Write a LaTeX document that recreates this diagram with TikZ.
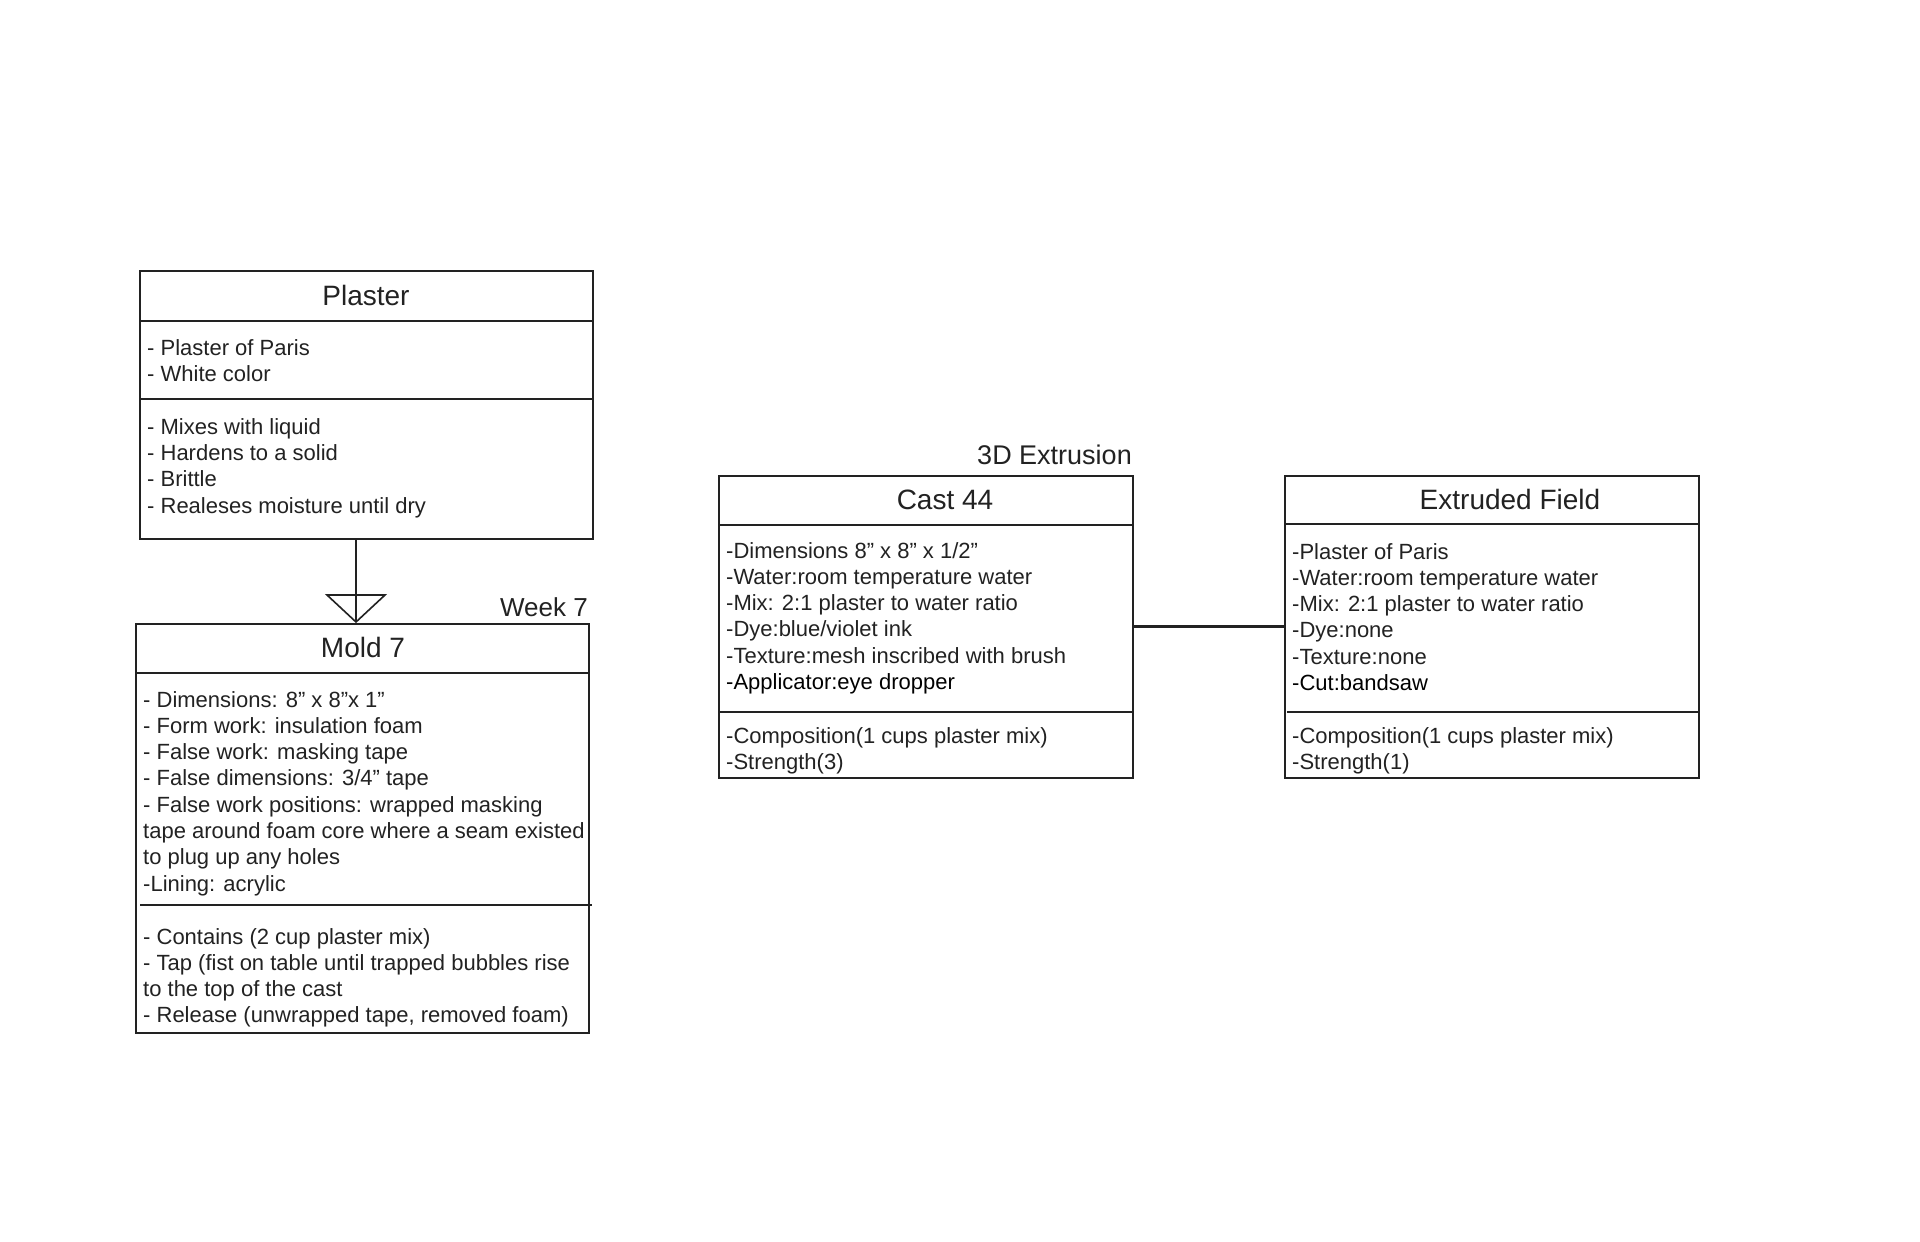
\documentclass[tikz,border=0pt]{standalone}
\usepackage{fontspec}
\setmainfont{Liberation Sans}
\definecolor{ink}{HTML}{222222}
\tikzset{
  box/.style={draw=ink, line width=1.8pt, fill=white, anchor=north west, inner sep=0pt},
  divider/.style={draw=ink, line width=2.6pt},
  conn/.style={draw=ink, line width=1.6pt},
  link/.style={draw=ink, line width=3pt},
  txt/.style={anchor=base west, inner sep=0pt, text=ink, font=\fontsize{22}{26}\selectfont},
  title/.style={anchor=base, inner sep=0pt, text=ink, font=\fontsize{28}{32}\selectfont},
  lbl/.style={anchor=base east, inner sep=0pt, text=ink, font=\fontsize{26}{30}\selectfont}
}
\begin{document}
\begin{tikzpicture}[x=1pt,y=-1pt]
\useasboundingbox (0,0) rectangle (1920,1242);
\fill[white] (0,0) rectangle (1920,1242);

% ---------- Plaster ----------
\node[box, minimum width=453pt, minimum height=268pt] (plaster) at (139,270) {};
\draw[divider] (139,321) -- (592,321);
\draw[divider] (139,399) -- (592,399);
\node[title] (plasterT) at (366,305) {Plaster};
\foreach \t [count=\i] in {- Plaster of Paris, - White color}
  \node[txt] (plA\i) at (147,{355+26.3*(\i-1)}) {\t};
\foreach \t [count=\i] in {- Mixes with liquid, - Hardens to a solid, - Brittle, - Realeses moisture until dry}
  \node[txt] (plB\i) at (147,{434+26.4*(\i-1)}) {\t};

% ---------- Mold 7 ----------
\node[box, minimum width=453pt, minimum height=409pt] (mold) at (135,623) {};
\draw[divider] (135,673) -- (588,673);
\draw[divider] (140,905) -- (592,905);
\node[title] (moldT) at (363,657) {Mold 7};
\node[lbl] (week) at (588,616) {Week 7};
\foreach \t [count=\i] in {- Dimensions: 8” x 8”x 1”, - Form work: insulation foam, - False work: masking tape, - False dimensions: 3/4” tape, - False work positions: wrapped masking, tape around foam core where a seam existed, to plug up any holes, -Lining: acrylic}
  \node[txt] (mA\i) at (143,{707+26.3*(\i-1)}) {\t};
\foreach \t [count=\i] in {- Contains (2 cup plaster mix), - Tap (fist on table until trapped bubbles rise, to the top of the cast, {- Release (unwrapped tape, removed foam)}}
  \node[txt] (mB\i) at (143,{944+26.3*(\i-1)}) {\t};

% ---------- Cast 44 ----------
\node[box, minimum width=414pt, minimum height=302pt] (cast) at (718,475) {};
\draw[divider] (718,525) -- (1132,525);
\draw[divider] (718,712) -- (1132,712);
\node[title] (castT) at (945,509) {Cast 44};
\node[lbl, font=\fontsize{27}{31}\selectfont] (extr) at (1132,464) {3D Extrusion};
\foreach \t [count=\i] in {-Dimensions 8” x 8” x 1/2”, -Water:room temperature water, -Mix: 2:1 plaster to water ratio, -Dye:blue/violet ink, -Texture:mesh inscribed with brush}
  \node[txt] (cA\i) at (726,{558+26.3*(\i-1)}) {\t};
\node[txt, text=black] (cA6) at (726,{558+26.3*5}) {-Applicator:eye dropper};
\foreach \t [count=\i] in {-Composition(1 cups plaster mix), -Strength(3)}
  \node[txt] (cB\i) at (726,{743+26.3*(\i-1)}) {\t};

% ---------- Extruded Field ----------
\node[box, minimum width=414pt, minimum height=302pt] (ext) at (1284,475) {};
\draw[divider] (1284,524) -- (1698,524);
\draw[divider] (1287,712) -- (1698,712);
\node[title] (extT) at (1510,509) {Extruded Field};
\foreach \t [count=\i] in {-Plaster of Paris, -Water:room temperature water, -Mix: 2:1 plaster to water ratio, -Dye:none, -Texture:none}
  \node[txt] (eA\i) at (1292,{559+26.3*(\i-1)}) {\t};
\node[txt, text=black] (eA6) at (1292,{559+26.3*5}) {-Cut:bandsaw};
\foreach \t [count=\i] in {-Composition(1 cups plaster mix), -Strength(1)}
  \node[txt] (eB\i) at (1292,{743+26.3*(\i-1)}) {\t};

% ---------- connectors ----------
\coordinate (tip) at (356,622);
\draw[conn] (tip |- plaster.south) -- (tip);
\draw[conn, line join=miter] (tip) -- ++(-29,-27) -- ++(58,0) -- cycle;
\draw[link] (cast.east) -- (ext.west);
\end{tikzpicture}
\end{document}
